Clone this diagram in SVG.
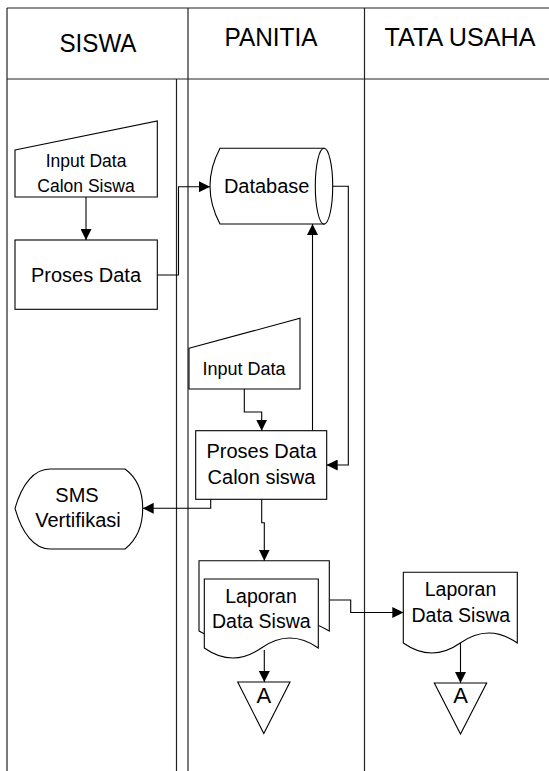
<svg xmlns="http://www.w3.org/2000/svg" width="549" height="771" viewBox="0 0 549 771">
<defs>
<style>
.frame{stroke:#222;stroke-width:1.2;fill:none}
.shape{stroke:#000;stroke-width:1.1;fill:#fff}
.conn{stroke:#000;stroke-width:1.1;fill:none;marker-end:url(#arr)}
text{font-family:"Liberation Sans",Arial,sans-serif;fill:#000;text-anchor:middle}
.hd{font-size:26.5px}
.t20{font-size:20px}
</style>
<marker id="arr" markerUnits="userSpaceOnUse" markerWidth="11" markerHeight="11" refX="11" refY="5.5" orient="auto">
<path d="M0,0 L11,5.5 L0,11 Z" fill="#000"/>
</marker>
</defs>
<rect width="549" height="771" fill="#fff"/>
<g id="lanes">
<line class="frame" x1="7" y1="8" x2="549" y2="8"/>
<line class="frame" x1="7" y1="8" x2="7" y2="771"/>
<line class="frame" x1="7" y1="79" x2="549" y2="79"/>
<line class="frame" x1="188" y1="8" x2="188" y2="771"/>
<line class="frame" x1="364.5" y1="8" x2="364.5" y2="771"/>
<line class="frame" x1="176.5" y1="79" x2="176.5" y2="771"/>
<text class="hd" x="98" y="51.7" textLength="77" lengthAdjust="spacingAndGlyphs">SISWA</text>
<text class="hd" x="271" y="45.7" textLength="93" lengthAdjust="spacingAndGlyphs">PANITIA</text>
<text class="hd" x="460" y="45.7" textLength="151" lengthAdjust="spacingAndGlyphs">TATA USAHA</text>
</g>
<g id="input-calon-siswa">
<polygon class="shape" points="15,150 157.3,121 157.3,197 15,197"/>
<text x="86" y="167.3" style="font-size:17.5px">Input Data</text>
<text x="86" y="191.7" style="font-size:17.5px">Calon Siswa</text>
</g>
<g id="proses-data">
<rect class="shape" x="15" y="240" width="142.3" height="69.3"/>
<text class="t20" x="86" y="281.7">Proses Data</text>
</g>
<g id="database">
<path class="shape" d="M220,148.3 L324,148.3 L324,224 L220,224 Q200,186.2 220,148.3 Z"/>
<ellipse class="shape" cx="324" cy="186.2" rx="8.7" ry="37.9"/>
<text class="t20" x="266.7" y="192.7">Database</text>
</g>
<g id="input-data">
<polygon class="shape" points="189,348.3 300,318.3 300,389 189,389"/>
<text x="244" y="375" style="font-size:18px">Input Data</text>
</g>
<g id="proses-data-calon-siswa">
<rect class="shape" x="195.7" y="430.7" width="131" height="68.6"/>
<text class="t20" x="261.5" y="458.3">Proses Data</text>
<text class="t20" x="261.5" y="484.3">Calon siswa</text>
</g>
<g id="sms-vertifikasi">
<path class="shape" d="M15,508.3 C22,484 34,469 50,469 L125,469 Q142.7,482 142.7,508.3 Q142.7,535 125,549 L50,549 C34,549 22,533 15,508.3 Z"/>
<text class="t20" x="77" y="501.7">SMS</text>
<text class="t20" x="78" y="527.3">Vertifikasi</text>
</g>
<g id="laporan-panitia">
<path class="shape" d="M199,560.7 L329.3,560.7 L329.3,631 Q296.7,611 264.2,631 T199,631 Z"/>
<path class="shape" d="M204.3,579 L318.3,579 L318.3,648 Q289.8,628 261.3,648 T204.3,648 Z"/>
<text x="261" y="602.7" style="font-size:19.5px">Laporan</text>
<text x="261.3" y="628.3" style="font-size:19.5px">Data Siswa</text>
</g>
<g id="laporan-tata-usaha">
<path class="shape" d="M403.3,572.3 L517.3,572.3 L517.3,643 Q488.8,623 460.3,643 T403.3,643 Z"/>
<text x="460.5" y="596" style="font-size:19.5px">Laporan</text>
<text x="460.8" y="621.7" style="font-size:19.5px">Data Siswa</text>
</g>
<g id="connector-a-panitia">
<polygon class="shape" points="237.7,682 290,682 263.8,733.5"/>
<text x="263.8" y="702.7" style="font-size:22px">A</text>
</g>
<g id="connector-a-tata-usaha">
<polygon class="shape" points="434.3,683 486.7,683 460.5,734"/>
<text x="460.5" y="703.2" style="font-size:22px">A</text>
</g>
<g id="connectors">
<path class="conn" d="M86,197 L86,240"/>
<path class="conn" d="M157.3,275 L178.5,275 L178.5,186.7 L210,186.7"/>
<path class="conn" d="M332.7,186.2 L348.3,186.2 L348.3,465 L326.7,465"/>
<path class="conn" d="M312.5,430.7 L312.5,224"/>
<path class="conn" d="M244.3,389 L244.3,412 L261.7,412 L261.7,430.7"/>
<path class="conn" d="M210.7,499.3 L210.7,508.3 L142.7,508.3"/>
<path class="conn" d="M261.7,499.3 L261.7,522.7 L264.3,522.7 L264.3,560.7"/>
<path class="conn" d="M329.3,600 L350.7,600 L350.7,612.5 L403.3,612.5"/>
<path class="conn" d="M264.3,650 L264.3,682"/>
<path class="conn" d="M460.5,643 L460.5,683"/>
</g>
</svg>
